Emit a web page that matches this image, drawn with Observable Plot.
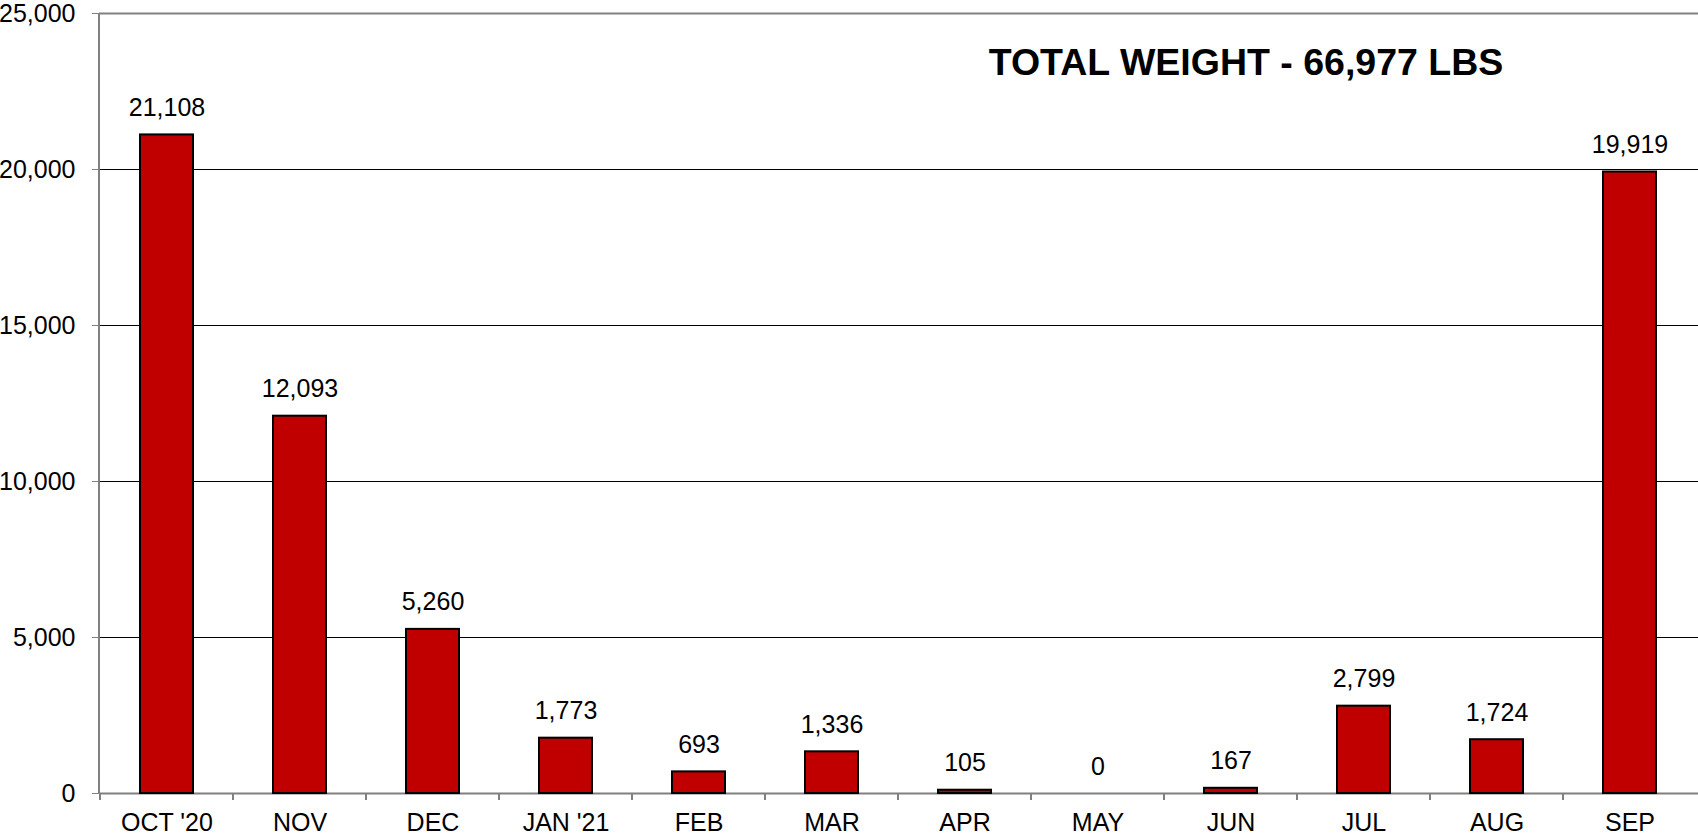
<!DOCTYPE html>
<html><head><meta charset="utf-8">
<script src="https://cdn.jsdelivr.net/npm/d3@7"></script>
<script src="https://cdn.jsdelivr.net/npm/@observablehq/plot@0.6"></script>
<style>
body{margin:0;background:#fff;}
#wrap{position:relative;width:1698px;height:838px;overflow:hidden;}
#title{position:absolute;left:1246px;top:44px;transform:translateX(-50%);white-space:nowrap;
 font-family:"Liberation Sans",Arial,sans-serif;font-weight:bold;font-size:37.5px;line-height:37.5px;color:#000;}
</style>
</head><body><div id="wrap"><div id="title"></div></div>
<script>
const months = ["OCT '20","NOV","DEC","JAN '21","FEB","MAR","APR","MAY","JUN","JUL","AUG","SEP"];
const weights = [21108,12093,5260,1773,693,1336,105,0,167,2799,1724,19919];
const yTicks = [0,5000,10000,15000,20000,25000];
const gridValues = [5000,10000,15000,20000];
const title = "TOTAL WEIGHT - 66,977 LBS";

const data = months.map((m,i)=>({month:m, weight:weights[i]}));
const PAD = 0.6;
const fmt = d3.format(",");
document.getElementById("title").textContent = title;

function frameLines(index, scales, values, dims) {
  const x = scales.x, y = scales.y;
  const n = months.length;
  const step = (dims.width - dims.marginLeft - dims.marginRight) / n;
  const g = d3.create("svg:g").attr("stroke","#808080").attr("stroke-width",2);
  const left = dims.marginLeft, bottom = y(yTicks[0]), top = y(yTicks[yTicks.length-1]);
  g.append("line").attr("x1",left).attr("x2",left).attr("y1",top).attr("y2",bottom);
  months.forEach((m,i)=>{
    const bx = x(m) - step*PAD/2;
    g.append("line").attr("x1",bx).attr("x2",bx).attr("y1",bottom).attr("y2",bottom+7);
  });
  return g.node();
}

const chart = Plot.plot({
  width:1698, height:838, marginLeft:99, marginRight:0, marginTop:13, marginBottom:45,
  style:{fontFamily:"'Liberation Sans', Arial, sans-serif", fontSize:"25px", color:"#000", background:"#fff", overflow:"visible"},
  x:{domain:months, paddingInner:PAD, paddingOuter:PAD/2, label:null},
  y:{domain:[0,25000], label:null},
  marks:[
    Plot.gridY(gridValues,{stroke:"#000", strokeOpacity:1, strokeWidth:1}),
    Plot.ruleY([yTicks[yTicks.length-1]],{stroke:"#808080", strokeWidth:2}),
    Plot.ruleY([0],{stroke:"#808080", strokeWidth:2}),
    frameLines,
    Plot.axisY(yTicks,{tickSize:7, tickPadding:17, tickFormat:fmt, stroke:"#808080", fill:"#000", fontSize:25, label:null}),
    Plot.axisX({tickSize:0, tickPadding:20, fontSize:25, fill:"#000", label:null}),
    Plot.barY(data,{x:"month", y:"weight", fill:"#C00000", stroke:"#000", strokeWidth:2}),
    Plot.text(data,{x:"month", y:"weight", text:d=>fmt(d.weight), dy:-27, fontSize:25, fill:"#000"})
  ]
});
document.getElementById("wrap").appendChild(chart);
</script>
</body></html>
